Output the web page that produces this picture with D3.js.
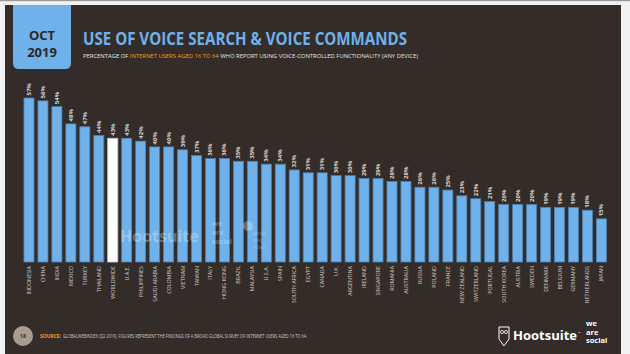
<!DOCTYPE html>
<html><head><meta charset="utf-8">
<script src="https://cdn.jsdelivr.net/npm/d3@7"></script>
<style>html,body{margin:0;padding:0;background:#f2f2f2;}svg{display:block;}</style>
</head><body>
<script>
const categories = ["INDONESIA","CHINA","INDIA","MEXICO","TURKEY","THAILAND","WORLDWIDE","U.A.E.","PHILIPPINES","SAUDI ARABIA","COLOMBIA","VIETNAM","TAIWAN","ITALY","HONG KONG","BRAZIL","MALAYSIA","U.S.A.","SPAIN","SOUTH AFRICA","EGYPT","CANADA","U.K.","ARGENTINA","IRELAND","SINGAPORE","ROMANIA","AUSTRALIA","RUSSIA","POLAND","FRANCE","NEW ZEALAND","SWITZERLAND","PORTUGAL","SOUTH KOREA","AUSTRIA","SWEDEN","DENMARK","BELGIUM","GERMANY","NETHERLANDS","JAPAN"];
const values = [57,56,54,48,47,44,43,43,42,40,40,39,37,36,36,35,35,34,34,32,31,31,30,30,29,29,28,28,26,26,25,23,22,21,20,20,20,19,19,19,18,15];
const highlight = "WORLDWIDE";

const W = 630, H = 354;
const svg = d3.select("body").append("svg").attr("width", W).attr("height", H);
const font = "'Open Sans', 'DejaVu Sans', sans-serif";

// frame
svg.append("rect").attr("x",0).attr("y",0).attr("width",W).attr("height",H).attr("fill","#f2f2f2");
svg.append("rect").attr("x",0).attr("y",0).attr("width",W).attr("height",1.2).attr("fill","#9a9a9a");
svg.append("rect").attr("x",5).attr("y",5).attr("width",616).attr("height",H-5).attr("fill","#342c29");

// date box
svg.append("path").attr("d","M13,5 H71 V63 Q71,69 65,69 H19 Q13,69 13,63 Z").attr("fill","#6fb1ea");
svg.append("text").attr("x",42).attr("y",40).attr("text-anchor","middle").attr("font-family",font)
  .attr("font-weight",700).attr("font-size",13).attr("fill","#2e2725").text("OCT");
svg.append("text").attr("x",42).attr("y",56.5).attr("text-anchor","middle").attr("font-family",font)
  .attr("font-weight",700).attr("font-size",13).attr("fill","#2e2725").text("2019");

// title
svg.append("text").attr("x",83).attr("y",44.5).attr("font-family",font).attr("font-weight",700)
  .attr("font-size",17.5).attr("fill","#6fb1ea").attr("textLength",324).attr("lengthAdjust","spacingAndGlyphs")
  .text("USE OF VOICE SEARCH & VOICE COMMANDS");
const sub = svg.append("text").attr("x",83).attr("y",57.5).attr("font-family",font)
  .attr("font-size",6).attr("fill","#e8e4e0").attr("textLength",335).attr("lengthAdjust","spacingAndGlyphs");
sub.append("tspan").text("PERCENTAGE OF ");
sub.append("tspan").attr("fill","#f0a022").text("INTERNET USERS AGED 16 TO 64");
sub.append("tspan").text(" WHO REPORT USING VOICE-CONTROLLED FUNCTIONALITY (ANY DEVICE)");

// scales
const x = d3.scaleBand().domain(categories).range([22, 608.4]).paddingInner(0.28).paddingOuter(0.14);
const y = d3.scaleLinear().domain([0, 57]).range([262, 98]);
const data = categories.map((c,i)=>({c, v: values[i]}));

const g = svg.append("g");
g.selectAll("rect.bar").data(data).join("rect").attr("class","bar")
  .attr("x", d=>x(d.c)).attr("width", x.bandwidth())
  .attr("y", d=>y(d.v)).attr("height", d=>y(0)-y(d.v))
  .attr("fill", d=>d.c===highlight ? "#ffffff" : "#6fb1ea")
  .attr("stroke", d=>d.c===highlight ? "#cfcfcf" : "#4d80b0").attr("stroke-width",0.8);

// watermark
const wm = svg.append("g").attr("opacity",0.28).attr("fill","#ffffff").attr("font-family",font).attr("font-weight",700);
wm.append("text").attr("x",120).attr("y",242).attr("font-size",16).text("Hootsuite");
wm.append("text").attr("x",212).attr("y",226).attr("font-size",7).text("we");
wm.append("text").attr("x",212).attr("y",235).attr("font-size",7).text("are");
wm.append("text").attr("x",212).attr("y",244).attr("font-size",7).text("social");
wm.append("circle").attr("cx",248).attr("cy",226).attr("r",5);
wm.append("text").attr("x",253).attr("y",235).attr("font-size",4.8).attr("font-weight",400).text("global");
wm.append("text").attr("x",253).attr("y",242).attr("font-size",4.8).attr("font-weight",400).text("web");
wm.append("text").attr("x",253).attr("y",249).attr("font-size",4.8).attr("font-weight",400).text("index");

// value labels
g.selectAll("text.val").data(data).join("text").attr("class","val")
  .attr("transform", d=>`translate(${x(d.c)+x.bandwidth()/2+2},${y(d.v)-2.5}) rotate(-90)`)
  .attr("font-family",font).attr("font-weight",700).attr("font-size",6).attr("fill","#d8d4d0")
  .attr("text-anchor","start").text(d=>d.v+"%");

// category axis labels
const xAxis = d3.axisBottom(x).tickSize(0).tickPadding(0);
const ax = svg.append("g").attr("transform","translate(0,262)").call(xAxis);
ax.select(".domain").remove();
ax.selectAll(".tick text")
  .attr("transform","translate(2,4) rotate(-90)").attr("text-anchor","end").attr("dy",0).attr("y",0).attr("x",0)
  .attr("font-family",font).attr("font-size",5.4).attr("fill","#cfcac5");

// footer
svg.append("circle").attr("cx",23).attr("cy",336).attr("r",10).attr("fill","#a99d90");
svg.append("text").attr("x",23).attr("y",338).attr("text-anchor","middle").attr("font-family",font)
  .attr("font-size",5.5).attr("font-weight",700).attr("fill","#3a312d").text("18");
svg.append("text").attr("x",40).attr("y",338).attr("font-family",font).attr("font-size",4.6)
  .attr("fill","#f0a022").attr("font-weight",700).attr("textLength",21).attr("lengthAdjust","spacingAndGlyphs").text("SOURCE:");
svg.append("text").attr("x",63).attr("y",338).attr("font-family",font).attr("font-size",4.6)
  .attr("fill","#d0cbc6").attr("textLength",244).attr("lengthAdjust","spacingAndGlyphs")
  .text("GLOBALWEBINDEX (Q2 2019). FIGURES REPRESENT THE FINDINGS OF A BROAD GLOBAL SURVEY OF INTERNET USERS AGED 16 TO 64.");

// logos
const lg = svg.append("g").attr("fill","#ffffff").attr("font-family",font).attr("font-weight",700);
lg.append("path").attr("d","M499,327 L509,327 L509,339 Q504,346 504,346 Q499,339 499,339 Z")
  .attr("fill","none").attr("stroke","#ffffff").attr("stroke-width",1);
lg.append("circle").attr("cx",502).attr("cy",332).attr("r",1.6).attr("fill","none").attr("stroke","#fff").attr("stroke-width",0.8);
lg.append("circle").attr("cx",506).attr("cy",332).attr("r",1.6).attr("fill","none").attr("stroke","#fff").attr("stroke-width",0.8);
lg.append("text").attr("x",513).attr("y",340).attr("font-size",12).attr("textLength",64).attr("lengthAdjust","spacingAndGlyphs").text("Hootsuite");
lg.append("text").attr("x",578).attr("y",334).attr("font-size",3).text("™");
lg.append("text").attr("x",586).attr("y",326).attr("font-size",7.5).text("we");
lg.append("text").attr("x",586).attr("y",334.5).attr("font-size",7.5).text("are");
lg.append("text").attr("x",586).attr("y",343).attr("font-size",7.5).text("social");
</script>
</body></html>
